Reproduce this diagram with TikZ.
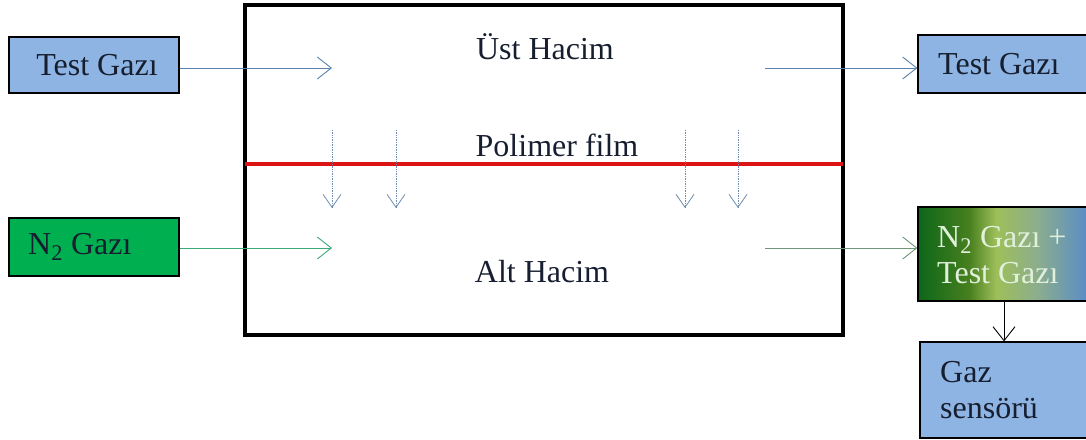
\documentclass[tikz,border=0pt]{standalone}
\usepackage{fontspec}
\setmainfont{Liberation Serif}
\usetikzlibrary{arrows.meta}
\definecolor{boxblue}{RGB}{141,180,226}
\definecolor{boxgreen}{RGB}{0,176,80}
\definecolor{txt}{RGB}{22,30,48}
\definecolor{arrblue}{RGB}{90,130,175}
\definecolor{arrgreen}{RGB}{60,170,120}
\definecolor{arrmix}{RGB}{110,150,120}
\definecolor{dotblue}{RGB}{110,140,175}
\definecolor{filmred}{RGB}{220,20,20}
\definecolor{mixtxt}{RGB}{225,240,220}
\pgfdeclarehorizontalshading{mixshade}{100bp}{
  rgb(0bp)=(0.05,0.38,0.10);
  rgb(25bp)=(0.05,0.40,0.10);
  rgb(40bp)=(0.28,0.50,0.12);
  rgb(48bp)=(0.62,0.75,0.35);
  rgb(60bp)=(0.55,0.68,0.55);
  rgb(75bp)=(0.35,0.55,0.78);
  rgb(100bp)=(0.30,0.52,0.80)}
\tikzset{
  gasbox/.style={draw=black, line width=1.2pt, inner sep=0pt},
  lbl/.style={font=\fontsize{32}{36}\selectfont, text=txt, inner sep=0pt},
  flow/.style={line width=0.9pt, -{Straight Barb[length=14pt,width=22pt,line width=0.9pt]}},
  perm/.style={line width=0.7pt, dotblue, densely dotted, -{Straight Barb[length=13pt,width=18pt,line width=0.8pt]}}
}
\begin{document}
\begin{tikzpicture}[x=1pt,y=-1pt]
\useasboundingbox (0,0) rectangle (1086,439);
\clip (0,0) rectangle (1086,439);
% chamber
\node[draw=black, line width=3.2pt, minimum width=598pt, minimum height=330pt, inner sep=0pt] (chamber) at (544,170) {};
\coordinate (filmL) at (245,164);
\coordinate (filmR) at (843,164);
\draw[filmred, line width=3.5pt] (filmL) -- (filmR);
\node[lbl] (ust) at (545,47) {Üst Hacim};
\node[lbl] (film) at (557,145) {Polimer film};
\node[lbl] (alt) at (542,272) {Alt Hacim};
% left boxes
\node[gasbox, fill=boxblue, minimum width=170pt, minimum height=56pt] (testL) at (94,65) {};
\node[lbl] (testLt) at (97,65) {Test Gazı};
\node[gasbox, fill=boxgreen, minimum width=170pt, minimum height=58pt] (n2) at (94,247) {};
\node[lbl, anchor=west] (n2t) at (28,247) {N\textsubscript{2} Gazı};
% right boxes
\node[gasbox, fill=boxblue, minimum width=180pt, minimum height=58pt] (testR) at (1008,64) {};
\node[lbl, anchor=west] (testRt) at (938,64) {Test Gazı};
\node[gasbox, shading=mixshade, minimum width=170pt, minimum height=94pt] (mix) at (1003,254) {};
\node[lbl, text=mixtxt, align=left, anchor=west] (mixt) at (937,255) {N\textsubscript{2} Gazı +\\Test Gazı};
\node[gasbox, fill=boxblue, minimum width=170pt, minimum height=96pt] (sensor) at (1005,390) {};
\node[lbl, align=left, anchor=west] (sensort) at (940,390) {Gaz\\sensörü};
% flow arrows
\coordinate (a1e) at (332,68);
\coordinate (a2s) at (765,68);
\coordinate (a3e) at (332,248);
\coordinate (a4s) at (765,248);
\coordinate (dx) at (1004,0);
\draw[flow, arrblue] (testL.east |- a1e) -- (a1e);
\draw[flow, arrblue] (a2s) -- (testR.west |- a2s);
\draw[flow, arrgreen] (n2.east |- a3e) -- (a3e);
\draw[flow, arrmix] (a4s) -- (mix.west |- a4s);
\draw[flow, black] (dx |- mix.south) -- (dx |- sensor.north);
% permeation arrows
\foreach \x/\n in {332/p1,396/p2,685/p3,738/p4}{
  \coordinate (\n s) at (\x,130);
  \coordinate (\n e) at (\x,208);
  \draw[perm] (\n s) -- (\n e);
}
\end{tikzpicture}
\end{document}
